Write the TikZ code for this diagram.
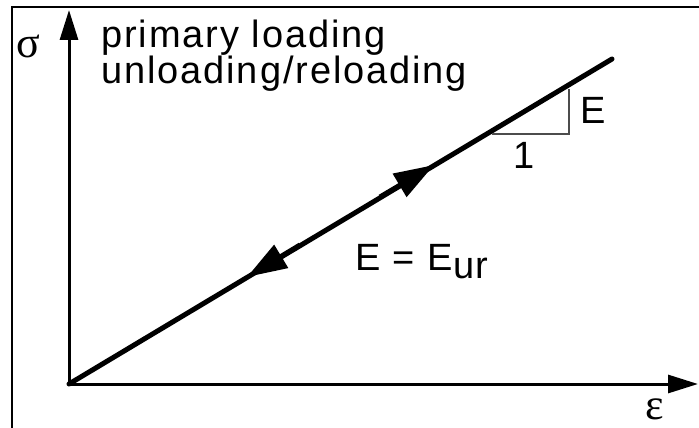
\documentclass[tikz,border=0pt]{standalone}
\usepackage{fontspec}
\setmainfont{Liberation Sans}[LetterSpace=5]
\newfontfamily\greekfont{Liberation Serif}
\usetikzlibrary{arrows.meta}
\begin{document}
\begin{tikzpicture}[x=1pt,y=-1pt,
  lbl/.style={inner sep=0pt,anchor=base west,font=\fontsize{38}{38}\selectfont},
  grk/.style={inner sep=0pt,anchor=base west,font=\greekfont\fontsize{44}{44}\selectfont},
  axis/.style={line width=3pt,-{Triangle[length=30pt,width=18pt]}},
  curve/.style={line width=5pt},
  tip/.style={line width=5pt,-{Triangle[length=40pt,width=26pt]}}]
\useasboundingbox (0,0) rectangle (699,428);
\fill[white] (0,0) rectangle (699,428);
% frame
\draw[line width=2pt] (12,428) -- (12,7) -- (699,7);
% axes
\coordinate (O) at (69,384);
\coordinate (Ytip) at (69,10);
\coordinate (Xtip) at (698,384);
\coordinate (End) at (612,59);
\draw[axis] (O) -- (Ytip);
\draw[axis] (O) -- (Xtip);
\draw[curve,line cap=round] (O) -- (End);
% arrows on line
\coordinate (F0) at (380,197);
\coordinate (F1) at (434,165);
\coordinate (B0) at (300,245);
\coordinate (B1) at (247,277);
\draw[tip] (F0) -- (F1);
\draw[tip] (B0) -- (B1);
% slope triangle
\coordinate (T1) at (492,134);
\coordinate (T2) at (569,134);
\coordinate (T3) at (569,89);
\draw[line width=1.5pt,black!70] (T1) -- (T2) -- (T3);
% labels
\node[grk] (sig) at (16,58) {σ};
\node[grk] (eps) at (645,419) {ε};
\node[lbl] (l1) at (101,48) {primary loading};
\node[lbl] (l2) at (101,84) {unloading/reloading};
\node[lbl] (E1) at (580,123) {E};
\node[lbl] (one) at (513,168) {1};
\node[lbl] (Eur) at (355,270) {E = E\raisebox{-8pt}{ur}};
\end{tikzpicture}
\end{document}
